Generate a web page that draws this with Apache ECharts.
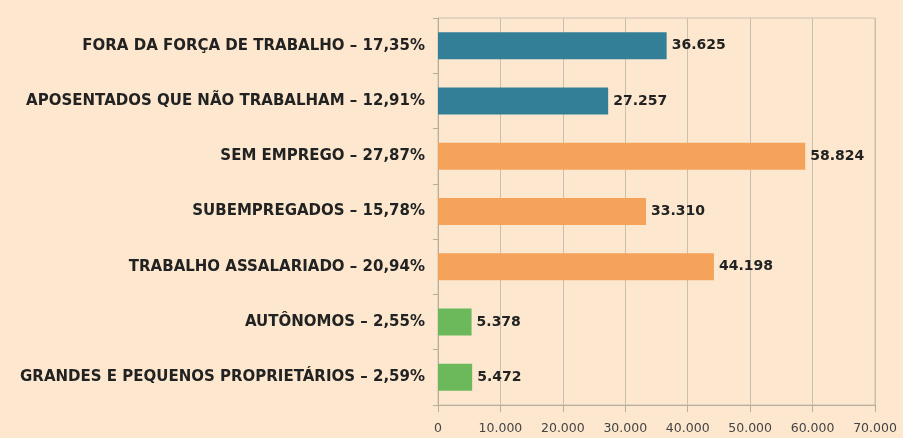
<html lang="pt">
<head>
    <meta charset="UTF-8">
    <title>Força de trabalho</title>
    <script src="https://cdn.jsdelivr.net/npm/echarts@6/dist/echarts.min.js"></script>
    <style>
        body { margin: 0; background: #fde8cf; }
    </style>
</head>
<body>
    <div id="main" style="width: 903px;height:438px;"></div>
    <script type="text/javascript">
        // categorias, de cima para baixo
        var categorias = [
            'FORA DA FORÇA DE TRABALHO – 17,35%',
            'APOSENTADOS QUE NÃO TRABALHAM – 12,91%',
            'SEM EMPREGO – 27,87%',
            'SUBEMPREGADOS – 15,78%',
            'TRABALHO ASSALARIADO – 20,94%',
            'AUTÔNOMOS – 2,55%',
            'GRANDES E PEQUENOS PROPRIETÁRIOS – 2,59%'
        ];
        var valores = [36625, 27257, 58824, 33310, 44198, 5378, 5472];
        var grupos = ['fora', 'fora', 'trab', 'trab', 'trab', 'prop', 'prop'];
        var coresGrupo = { fora: '#337f98', trab: '#f5a25a', prop: '#6cb95c' };
        var ticksX = [0, 10000, 20000, 30000, 40000, 50000, 60000, 70000];

        function fmt(v) {
            return String(v).replace(/\B(?=(\d{3})+(?!\d))/g, '.');
        }

        var myChart = echarts.init(document.getElementById('main'));

        var option = {
            backgroundColor: '#fde8cf',
            animation: false,
            grid: {
                left: 438, right: 28, top: 18, bottom: 33,
                show: true, borderColor: '#c9bfae', borderWidth: 1
            },
            xAxis: {
                type: 'value',
                min: ticksX[0],
                max: ticksX[ticksX.length - 1],
                interval: 10000,
                axisLine: { show: true, lineStyle: { color: '#b8ae9e' } },
                axisTick: { show: true, length: 7, lineStyle: { color: '#b8ae9e' } },
                splitLine: { show: true, lineStyle: { color: '#c9bfae' } },
                axisLabel: {
                    margin: 17,
                    color: '#444',
                    fontFamily: 'DejaVu Sans',
                    fontSize: 12.5,
                    formatter: function (v) { return fmt(v); }
                }
            },
            yAxis: {
                type: 'category',
                inverse: true,
                data: categorias,
                axisLine: { show: true, lineStyle: { color: '#b8ae9e' } },
                axisTick: { show: true, length: 5, lineStyle: { color: '#b8ae9e' } },
                axisLabel: {
                    margin: 13,
                    color: '#222',
                    fontFamily: 'DejaVu Sans',
                    fontWeight: 'bold',
                    fontSize: 15
                }
            },
            series: [{
                type: 'bar',
                barWidth: 27,
                data: valores.map(function (v, i) {
                    return { value: v, itemStyle: { color: coresGrupo[grupos[i]] } };
                }),
                label: {
                    show: true,
                    position: 'right',
                    distance: 5,
                    color: '#222',
                    fontFamily: 'DejaVu Sans',
                    fontWeight: 'bold',
                    fontSize: 14,
                    formatter: function (p) { return fmt(p.value); }
                }
            }]
        };
        myChart.setOption(option);
    </script>
</body>
</html>
